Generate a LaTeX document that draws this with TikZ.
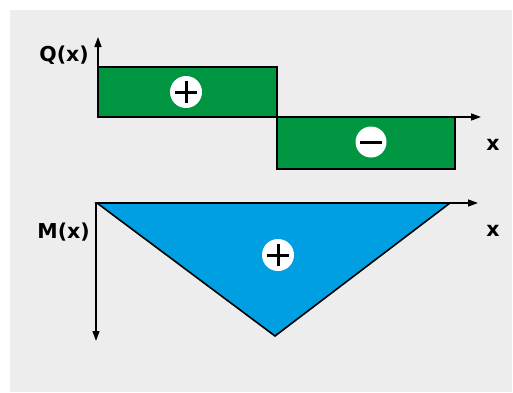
\documentclass[tikz,border=0pt]{standalone}
\usepackage{fontspec}
\setmainfont{DejaVu Sans}
\usetikzlibrary{arrows.meta}
\definecolor{bggray}{HTML}{EDEDED}
\definecolor{qgreen}{HTML}{009540}
\definecolor{mblue}{HTML}{009FE2}
\tikzset{
  axis/.style={line width=1.4pt, -{Triangle[length=10pt,width=7pt]}},
  area/.style={draw=black, line width=1.8pt, line join=miter},
  lbl/.style={font=\fontsize{20.5}{20.5}\selectfont\bfseries, inner sep=0pt},
  signplus/.style={circle, fill=white, minimum size=32pt, inner sep=0pt,
    path picture={\draw[line width=3pt] ([xshift=-11pt]path picture bounding box.center) -- ([xshift=11pt]path picture bounding box.center);
                  \draw[line width=3pt] ([yshift=-11pt]path picture bounding box.center) -- ([yshift=11pt]path picture bounding box.center);}},
  signminus/.style={circle, fill=white, minimum size=31pt, inner sep=0pt,
    path picture={\draw[line width=3pt] ([xshift=-11pt]path picture bounding box.center) -- ([xshift=11pt]path picture bounding box.center);}},
}
\begin{document}
\begin{tikzpicture}[x=1pt,y=-1pt]
\useasboundingbox (0,0) rectangle (513,392);
\fill[bggray] (10,10) rectangle (512,392);
% Q diagram
\coordinate (qo) at (98,117);
\coordinate (qtop) at (98,37);
\coordinate (qend) at (481,117);
\draw[area, fill=qgreen] (98,67) rectangle (277,117);
\draw[area, fill=qgreen] (277,117) rectangle (455,169);
\draw[axis] (qo) -- (qtop);
\draw[axis] (qo) -- (qend);
\node[lbl, anchor=east] (qlab) at (89,55) {Q(x)};
\node[lbl] (qx) at (493,145) {x};
\node[signplus] (qp) at (186,92) {};
\node[signminus] (qm) at (371,142) {};
% M diagram
\coordinate (mo) at (96,203);
\coordinate (mbot) at (96,341);
\coordinate (mend) at (478,203);
\draw[area, line width=1.6pt, fill=mblue] (97,203) -- (450,203) -- (275,336) -- cycle;
\draw[axis] (mo) -- (mbot);
\draw[axis] (mo) -- (mend);
\node[lbl, anchor=east] (mlab) at (90,232) {M(x)};
\node[lbl] (mx) at (493,231) {x};
\node[signplus] (mp) at (278,255) {};
\end{tikzpicture}
\end{document}
